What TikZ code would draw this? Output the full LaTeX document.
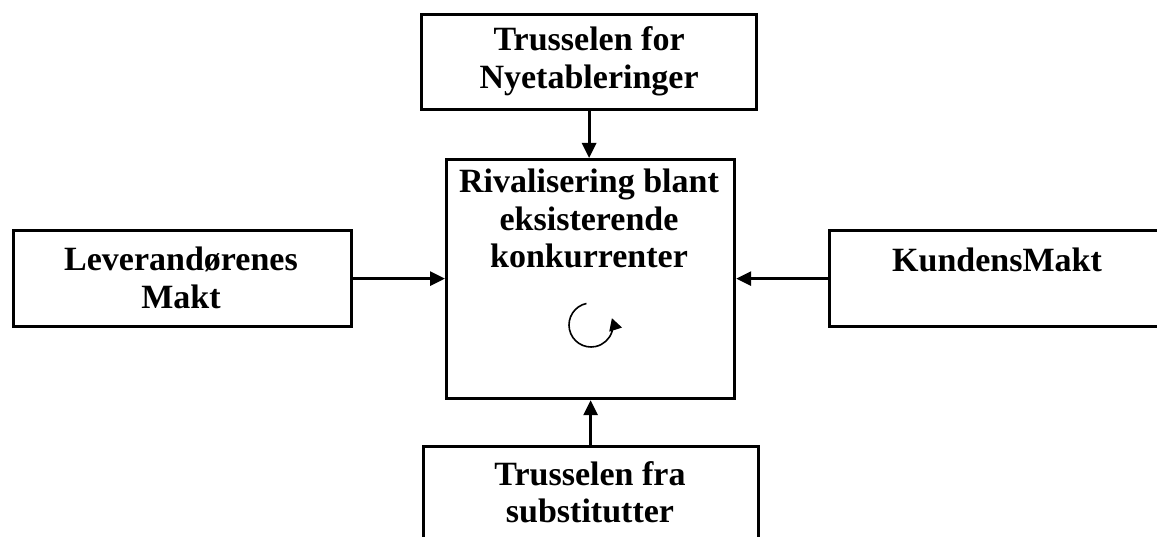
\documentclass[tikz,border=0pt]{standalone}
\usepackage{fontspec}
\setmainfont{Liberation Serif}
\usetikzlibrary{arrows.meta}
\begin{document}
\begin{tikzpicture}[x=1pt,y=-1pt,
  box/.style={draw,line width=3.2pt,inner sep=0pt,anchor=north west},
  lbl/.style={font=\fontsize{34}{37.5}\selectfont\bfseries,align=center,inner sep=0pt},
  arr/.style={line width=3pt,-{Triangle[length=15pt,width=14pt]}}]
\useasboundingbox (0,0) rectangle (1157,537);
\clip (0,0) rectangle (1157,537);
% boxes
\node[box,minimum width=335pt,minimum height=95pt] (top) at (420,13) {};
\node[box,minimum width=288pt,minimum height=239pt] (mid) at (445,158) {};
\node[box,minimum width=338pt,minimum height=96pt] (left) at (12,229) {};
\node[box,minimum width=340pt,minimum height=96pt] (right) at (828,229) {};
\node[box,minimum width=335pt,minimum height=120pt] (bot) at (422,445) {};
% texts
\node[lbl] (toptxt) at ([yshift=1pt]top.center) {Trusselen for\\Nyetableringer};
\node[lbl,anchor=north] (midtxt) at (589,169) {Rivalisering blant\\eksisterende\\konkurrenter};
\node[lbl] (lefttxt) at (181,278) {Leverandørenes\\Makt};
\node[lbl,anchor=base] (righttxt) at (997,272) {KundensMakt};
\node[lbl,anchor=north] (bottxt) at (590,461) {Trusselen fra\\substitutter};
% connectors
\draw[arr] (top.south) -- (top.south |- mid.north);
\draw[arr] (bot.north -| mid.south) -- (mid.south);
\draw[arr] (left.east) -- (left.east -| mid.west);
\draw[arr] (right.west) -- (right.west -| mid.east);
% cycle symbol
\coordinate (cyc) at (591,325);
\draw[line width=1.6pt,-{Triangle[length=12pt,width=13pt]}] ([shift={(102:22pt)}]cyc) arc[start angle=102,end angle=378,radius=22pt];
\end{tikzpicture}
\end{document}
